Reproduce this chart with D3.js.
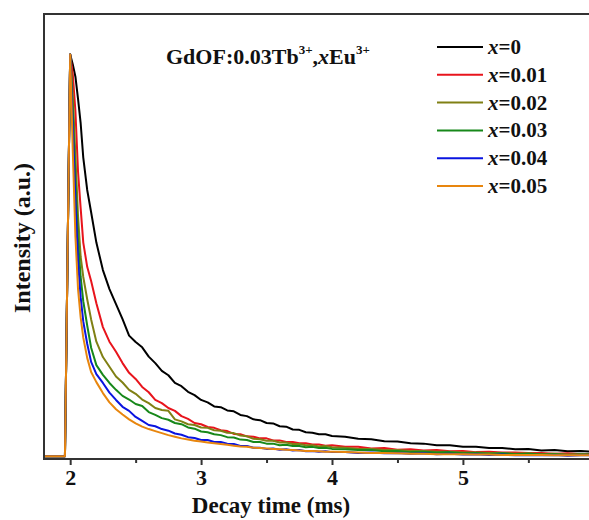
<!DOCTYPE html>
<html>
<head>
<meta charset="utf-8">
<script src="https://cdn.jsdelivr.net/npm/d3@7"></script>
<style>
    body { margin: 0; background: #fff; }
    svg { display: block; }
    text { font-family: "Liberation Serif", "Times New Roman", serif; font-weight: bold; }
</style>
</head>
<body>
<div id="chart"></div>
<script>
    // decay time (ms)
    let time = [1.80, 1.96, 2.00, 2.02, 2.04, 2.06, 2.08, 2.10, 2.13, 2.16, 2.20,
        2.25, 2.30, 2.35, 2.40, 2.45, 2.50, 2.55, 2.60, 2.65, 2.70, 2.75, 2.80, 2.85, 2.90, 2.95, 3.00,
        3.05, 3.10, 3.15, 3.20, 3.25, 3.30, 3.35, 3.40, 3.45, 3.50, 3.55, 3.60, 3.65, 3.70, 3.75, 3.80,
        3.85, 3.90, 3.95, 4.00, 4.10, 4.20, 4.30, 4.40, 4.50, 4.60, 4.70, 4.80, 4.90, 5.00,
        5.10, 5.20, 5.30, 5.40, 5.50, 5.60, 5.70, 5.80, 5.90, 6.00, 6.10, 6.20];

    let seriesNames = ["0", "0.01", "0.02", "0.03", "0.04", "0.05"];
    let seriesColors = ["#000000", "#e8141c", "#808014", "#17881a", "#0a14e0", "#e8860e"];

    // normalised intensity
    let x000 = [0.007, 0.007, 1.000, 0.975, 0.945, 0.890, 0.830, 0.745, 0.665, 0.610, 0.535,
        0.467, 0.420, 0.383, 0.346, 0.305, 0.289, 0.276, 0.253, 0.237, 0.218, 0.207, 0.188, 0.180, 0.166, 0.158, 0.146,
        0.140, 0.130, 0.128, 0.120, 0.118, 0.109, 0.106, 0.098, 0.096, 0.089, 0.088, 0.081, 0.080, 0.073, 0.072, 0.066,
        0.065, 0.061, 0.061, 0.057, 0.055, 0.050, 0.049, 0.044, 0.043, 0.039, 0.038, 0.034, 0.034, 0.030,
        0.030, 0.027, 0.027, 0.024, 0.025, 0.021, 0.022, 0.019, 0.020, 0.018, 0.017, 0.017];
    let x001 = [0.007, 0.007, 1.000, 0.950, 0.860, 0.710, 0.620, 0.535, 0.475, 0.440, 0.385,
        0.326, 0.290, 0.265, 0.237, 0.213, 0.198, 0.178, 0.165, 0.146, 0.138, 0.126, 0.119, 0.106, 0.099, 0.089, 0.086,
        0.079, 0.077, 0.071, 0.069, 0.062, 0.061, 0.056, 0.055, 0.051, 0.051, 0.046, 0.046, 0.042, 0.042, 0.039, 0.039,
        0.036, 0.036, 0.033, 0.034, 0.030, 0.030, 0.026, 0.027, 0.023, 0.024, 0.021, 0.022, 0.019, 0.020,
        0.017, 0.018, 0.016, 0.016, 0.015, 0.015, 0.013, 0.014, 0.012, 0.013, 0.012, 0.012];
    let x002 = [0.007, 0.007, 1.000, 0.900, 0.750, 0.600, 0.500, 0.450, 0.395, 0.345, 0.290,
        0.252, 0.228, 0.204, 0.189, 0.171, 0.161, 0.147, 0.138, 0.126, 0.121, 0.119, 0.098, 0.093, 0.086, 0.084, 0.078,
        0.077, 0.071, 0.070, 0.065, 0.064, 0.058, 0.056, 0.050, 0.049, 0.045, 0.045, 0.041, 0.041, 0.037, 0.037, 0.034,
        0.034, 0.031, 0.032, 0.029, 0.028, 0.025, 0.025, 0.022, 0.022, 0.020, 0.020, 0.018, 0.018, 0.016,
        0.016, 0.015, 0.015, 0.013, 0.014, 0.012, 0.013, 0.011, 0.012, 0.011, 0.011, 0.011];
    let x003 = [0.007, 0.007, 1.000, 0.860, 0.690, 0.540, 0.450, 0.390, 0.330, 0.275, 0.232,
        0.208, 0.188, 0.171, 0.156, 0.147, 0.136, 0.131, 0.116, 0.109, 0.101, 0.097, 0.089, 0.086, 0.078, 0.075, 0.068,
        0.066, 0.061, 0.059, 0.054, 0.053, 0.048, 0.047, 0.042, 0.042, 0.038, 0.038, 0.034, 0.035, 0.032, 0.032, 0.029,
        0.030, 0.027, 0.028, 0.025, 0.024, 0.022, 0.022, 0.019, 0.020, 0.017, 0.018, 0.016, 0.017, 0.014,
        0.015, 0.013, 0.014, 0.012, 0.013, 0.011, 0.012, 0.010, 0.011, 0.011, 0.010, 0.010];
    let x004 = [0.007, 0.007, 1.000, 0.820, 0.640, 0.490, 0.400, 0.340, 0.285, 0.240, 0.210,
        0.188, 0.164, 0.146, 0.129, 0.119, 0.104, 0.094, 0.084, 0.081, 0.074, 0.070, 0.063, 0.060, 0.054, 0.052, 0.047,
        0.047, 0.042, 0.042, 0.038, 0.037, 0.032, 0.032, 0.028, 0.028, 0.025, 0.026, 0.023, 0.024, 0.021, 0.022, 0.019,
        0.020, 0.018, 0.019, 0.017, 0.017, 0.015, 0.016, 0.014, 0.015, 0.013, 0.014, 0.012, 0.013, 0.011,
        0.012, 0.010, 0.011, 0.009, 0.010, 0.009, 0.010, 0.008, 0.009, 0.009, 0.009, 0.009];
    let x005 = [0.007, 0.007, 1.000, 0.760, 0.550, 0.420, 0.350, 0.300, 0.250, 0.215, 0.190,
        0.163, 0.140, 0.123, 0.110, 0.098, 0.088, 0.080, 0.074, 0.069, 0.064, 0.059, 0.055, 0.051, 0.048, 0.045, 0.043,
        0.041, 0.039, 0.037, 0.035, 0.033, 0.031, 0.030, 0.028, 0.027, 0.026, 0.025, 0.024, 0.023, 0.022, 0.021, 0.020,
        0.020, 0.019, 0.018, 0.018, 0.017, 0.016, 0.015, 0.015, 0.014, 0.013, 0.013, 0.012, 0.012, 0.012,
        0.011, 0.011, 0.010, 0.010, 0.010, 0.010, 0.009, 0.009, 0.009, 0.009, 0.009, 0.009];

    let seriesValues = [x000, x001, x002, x003, x004, x005];

    let majorTicks = [2, 3, 4, 5, 6];
    let minorTicks = [2.5, 3.5, 4.5, 5.5];

    let W = 589, H = 520;
    let margin = { top: 14, left: 44, bottom: 61 };
    let plotRight = 620; // frame runs off the right edge like the scan

    let svg = d3.select("#chart")
        .append("svg")
        .attr("width", W)
        .attr("height", H);

    let x = d3.scaleLinear()
        .domain([1.8, 6.2])
        .range([margin.left, plotRight]);

    let y = d3.scaleLinear()
        .domain([0, 1.1])
        .range([H - margin.bottom, margin.top]);

    let data = seriesNames.map((name, i) => ({
        name: name,
        color: seriesColors[i],
        values: time.map((t, j) => ({ t: t, v: seriesValues[i][j] }))
    }));

    let line = d3.line()
        .x(d => x(d.t))
        .y(d => y(d.v));

    svg.append("g")
        .selectAll("path")
        .data(data)
        .enter()
        .append("path")
        .attr("d", d => line(d.values))
        .attr("fill", "none")
        .attr("stroke", d => d.color)
        .attr("stroke-width", 2)
        .attr("stroke-linejoin", "round");

    // frame
    svg.append("rect")
        .attr("x", margin.left)
        .attr("y", margin.top)
        .attr("width", plotRight - margin.left)
        .attr("height", H - margin.bottom - margin.top)
        .attr("fill", "none")
        .attr("stroke", "#333")
        .attr("stroke-width", 2);

    let xAxis = svg.append("g")
        .attr("transform", `translate(0,${H - margin.bottom})`)
        .call(d3.axisBottom(x).tickValues(majorTicks).tickSize(6).tickSizeOuter(0).tickPadding(4).tickFormat(d3.format("d")));
    xAxis.select(".domain").remove();
    xAxis.selectAll("line").attr("stroke", "#333").attr("stroke-width", 2);
    xAxis.selectAll("text")
        .attr("fill", "#111")
        .style("font-size", "22px")
        .style("font-family", "'Liberation Serif', serif")
        .style("font-weight", "bold");

    let xMinor = svg.append("g")
        .attr("transform", `translate(0,${H - margin.bottom})`)
        .call(d3.axisBottom(x).tickValues(minorTicks).tickSize(4).tickSizeOuter(0).tickFormat(""));
    xMinor.select(".domain").remove();
    xMinor.selectAll("line").attr("stroke", "#333").attr("stroke-width", 2);

    svg.append("text")
        .attr("x", 271)
        .attr("y", 513)
        .attr("text-anchor", "middle")
        .style("font-size", "23px")
        .attr("fill", "#111")
        .text("Decay time (ms)");

    svg.append("text")
        .attr("transform", "rotate(-90)")
        .attr("x", -238)
        .attr("y", 30)
        .attr("text-anchor", "middle")
        .style("font-size", "24px")
        .attr("fill", "#111")
        .text("Intensity (a.u.)");

    // sample label
    let title = svg.append("text")
        .attr("x", 166)
        .attr("y", 64)
        .style("font-size", "22px")
        .attr("fill", "#111");
    title.append("tspan").text("GdOF:0.03Tb");
    title.append("tspan").attr("dy", -10).style("font-size", "13px").text("3+");
    title.append("tspan").attr("dy", 10).text(",");
    title.append("tspan").style("font-style", "italic").text("x");
    title.append("tspan").text("Eu");
    title.append("tspan").attr("dy", -10).style("font-size", "13px").text("3+");

    // legend
    let legend = svg.append("g")
        .selectAll("g")
        .data(data)
        .enter()
        .append("g")
        .attr("transform", (d, i) => `translate(437,${47 + i * 27.8})`);

    legend.append("line")
        .attr("x1", 0)
        .attr("x2", 46)
        .attr("stroke", d => d.color)
        .attr("stroke-width", 2);

    let legendText = legend.append("text")
        .attr("x", 51)
        .attr("y", 7)
        .style("font-size", "21px")
        .attr("fill", "#111");
    legendText.append("tspan").style("font-style", "italic").text("x");
    legendText.append("tspan").text(d => "=" + d.name);
</script>
</body>
</html>
